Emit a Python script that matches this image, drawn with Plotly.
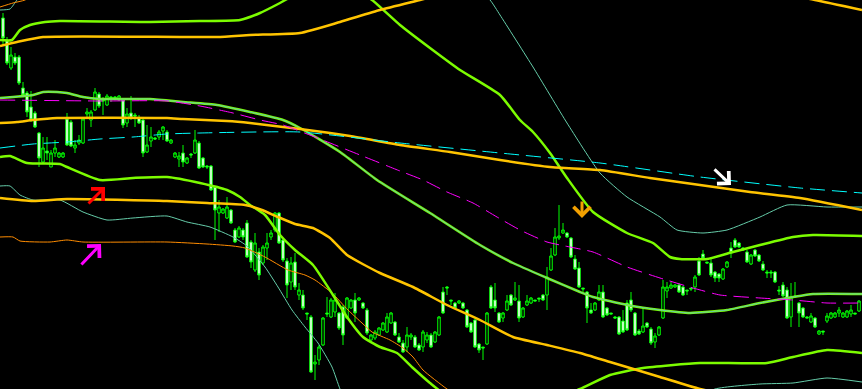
import plotly.graph_objects as go

# ---------------- candle data (price points) ----------------
OPEN = [382,360,332,343,343,312,307,293,287,267,
        238,249,233,247,243,243,281,278,252,257,
        257,286,280,290,306,300,295,303,303,300,
        300,277,287,285,282,280,248,259,262,263,
        269,268,257,243,241,247,237,246,247,257,
        242,234,234,213,187,187,182,190,170,163,
        170,177,158,130,148,137,152,163,170,187,
        160,139,118,138,105,105,87,83,36,40,
        55,87,83,88,87,93,82,92,100,100,
        97,90,60,62,65,70,68,77,78,63,
        57,53,63,63,55,53,60,65,58,65,
        108,113,100,97,97,97,90,77,80,56,
        53,56,113,100,87,82,90,105,100,99,
        83,95,97,100,102,105,105,130,145,162,
        167,167,162,141,132,112,108,90,90,100,
        108,92,87,83,83,79,97,100,87,69,
        68,77,71,58,65,82,109,112,113,115,
        113,110,112,113,139,146,138,137,128,126,
        121,133,152,160,157,152,148,136,150,145,
        136,128,128,128,110,115,110,83,104,97,
        92,83,78,82,66,69,79,82,83,87,
        83,83,86,87,89]
HIGH = [387,363,353,347,345,318,309,309,289,268,
        263,263,250,260,248,248,287,280,260,265,
        282,292,290,312,308,303,306,304,304,305,
        302,292,304,287,285,282,275,273,263,270,
        274,270,261,248,248,255,243,247,270,259,
        243,235,235,213,200,192,203,191,172,174,
        172,180,160,167,152,155,167,170,188,188,
        162,142,143,147,117,110,87,85,45,55,
        83,103,102,107,88,95,103,101,107,103,
        98,92,66,70,73,78,87,88,79,67,
        60,73,67,65,57,70,68,67,69,84,
        113,114,100,98,100,98,91,78,81,57,
        53,88,115,117,88,88,105,106,118,115,
        93,105,103,100,102,106,133,152,172,195,
        177,168,163,145,138,112,109,97,98,115,
        115,93,87,84,84,90,100,108,88,71,
        92,78,73,67,74,120,118,118,116,117,
        114,110,112,125,143,150,138,143,129,127,
        132,139,158,162,158,153,150,146,151,146,
        139,130,130,129,114,118,113,117,118,98,
        93,84,87,83,70,69,87,88,88,93,
        88,90,95,87,100]
LOW = [355,335,330,335,315,303,283,278,272,233,
       237,240,233,243,242,242,254,253,247,255,
       256,283,273,289,292,285,294,298,300,299,
       272,273,280,273,276,243,247,253,260,260,
       260,258,256,242,233,233,236,242,246,231,
       232,231,209,160,168,186,181,176,157,162,
       160,142,132,128,120,135,140,160,168,156,
       138,102,110,110,100,90,80,27,20,35,
       54,83,82,83,70,55,81,91,78,99,
       91,65,59,60,64,69,67,76,64,57,
       47,48,60,52,49,48,57,52,57,64,
       86,105,95,91,96,91,72,67,52,47,
       40,55,91,88,77,78,89,94,99,78,
       82,94,96,99,98,99,90,129,144,160,
       166,162,142,130,112,108,77,86,89,99,
       82,84,86,81,65,67,69,88,64,65,
       67,72,55,52,64,81,102,111,112,107,
       104,105,109,108,124,141,136,123,118,118,
       120,132,142,152,152,149,137,135,143,138,
       129,122,122,117,105,103,81,73,102,73,
       82,82,77,72,65,65,77,81,82,83,
       82,82,83,86,88]
CLOSE = [362,337,345,337,317,305,288,280,273,242,
         252,247,247,252,247,247,255,254,255,260,
         281,288,288,308,294,299,304,302,302,304,
         275,286,282,284,277,247,255,263,261,268,
         273,259,260,247,244,238,242,245,260,232,
         233,233,210,190,193,191,193,177,158,172,
         163,143,138,157,125,153,157,167,187,157,
         140,115,137,113,110,92,86,28,38,53,
         82,86,100,100,72,65,102,100,87,102,
         92,67,65,68,72,77,83,87,65,58,
         48,65,65,53,50,68,65,53,68,83,
         87,112,99,92,99,92,73,68,53,50,
         52,87,92,92,78,87,99,95,102,82,
         92,99,102,99,101,100,123,144,163,164,
         170,163,143,131,113,111,92,87,97,108,
         83,85,86,82,66,68,70,90,65,66,
         74,73,57,64,73,113,113,115,115,108,
         105,109,111,123,125,142,137,125,122,122,
         131,138,147,153,153,150,138,145,144,139,
         130,127,127,118,109,104,82,103,103,87,
         83,82,84,73,69,68,84,87,87,90,
         87,89,90,86,99]
BARS = list(range(len(OPEN)))

# ---------------- indicator lines (bar index, price) ----------------
UPPER_BAND_X = [-0.75,2.25,4.25,6.75,10.5,14.25,36.75,49.25,59.25,64.25,69.25,74.25,81.75,88,
                92.25,99.25,106.75,114.25,124.25,129.25,132.5,136.75,141,147.5,156,162.5,166.75,
                169.25,176,182.5,189.25,197.5,202.5,214.75]
UPPER_BAND_Y = [360,360,370,375,378,379,378,379,380,387,397,408,418,410,
                400,375,352,330,305,280,268,247,222,188,167,157,143,
                141,141,148,155,163,165,164]

UPPER_GOLD_X = [-0.75,3.5,10,53.5,61.75,74.25,84.25,94.25,104.25,114.25,149.25,189.25,203,214.75]
UPPER_GOLD_Y = [354,358,363,363,365,367,378,390,400,410,425,410,400,390]

MID_X = [-0.75,7.5,10,13.5,16,20,24.25,36.75,45,53.5,61.75,70,74.25,84.25,93.5,106.75,119.25,
         127.5,136,144.25,147.5,156,164.25,171.75,181,189.25,197.5,202.5,214.75]
MID_Y = [302,305,308,308,307,303,301,301,298,295,288,280,272,248,220,187,155,
         137,122,108,103,95,90,87,90,97,103,106,106]

MA_X = [-0.75,24.25,41,49.25,57.5,64.25,70,79.25,89.25,99.25,105,111,117.5,123.5,129.25,136,
        140.5,147.5,156,164.25,172.5,179.25,189.25,197.5,206,214.75]
MA_Y = [300,299,299,294,287,280,275,261,245,229,220,208,197,183,170,158,
        154,148,133,122,112,105,102,100,97,97]

MID_GOLD_X = [-0.75,3.5,7.5,13.5,41,45,56,61.75,70,74.25,86.75,99.25,111.75,124.25,136.75,
              149.25,161.75,174.25,186.75,199.25,214.75]
MID_GOLD_Y = [277,278,280,282,282,281,279,277,273,271,264,255,248,240,233,
              230,222,215,208,202,190]

CYAN_X = [-0.75,7.5,16,24.25,32.5,41,49.25,74.25,99.25,124.25,149.25,174.25,199.25,214.75]
CYAN_Y = [252,256,258,261,263,266,267,268,257,247,237,223,212,207]

LOWER_BAND_X = [-0.75,1.75,6,14.25,16,24.25,32.5,41,49.25,56,59.25,61.75,65.5,69.25,73,77.5,
                82.5,86,90,94.25,98.5,102.5,106.75,111.75,124.25,136.75,144.25,151.75,160,
                174.25,191,197.5,206,214.75]
LOWER_BAND_Y = [243,244,237,236,233,220,222,223,217,210,203,195,185,165,150,135,
                105,83,63,53,47,32,17,2,-10,0,11,25,32,
                37,37,43,50,47]

LOWER_GOLD_X = [-0.75,7.5,16,41,51,60.5,64.75,68.75,73,77.5,81.75,86,94.25,102.5,111,119.25,
                127.5,136,144.25,151.75,164.25,174.25,189.25,214.75]
LOWER_GOLD_Y = [202,199,201,199,197,195,190,183,176,172,162,145,127,113,95,80,
                63,55,47,38,23,11,0,-12]

LOWER_TEAL_X = [-0.75,1.75,4.25,7.5,14.25,20,26,32.5,41,46,51.75,57.5,61,65.5,68.75,72.25,
                75.5,78.75,82.25,84.25,86.75,124.25,161.75,178,189.25,197.5,206,214.75]
LOWER_TEAL_Y = [214,214,205,200,200,188,180,182,184,178,173,163,154,133,113,90,
                73,57,33,11,-10,-50,-20,11,16,17,22,18]

LOWER_ORANGE_X = [-0.75,2.5,4.25,11.75,16,20,41,51,57.5,60.5,65.5,71.25,75.5,78,82.25,86.25,
                  89.75,92.25,96.75,100,102.5,105,111,119.25]
LOWER_ORANGE_Y = [163,163,159,158,160,158,158,156,154,152,143,130,125,120,107,90,
                  77,68,60,52,43,30,11,-10]

UPPER_TEAL_X = [-0.75,1.75,3.5,6.75,49.25,99.25,116.75,121.75,124.25,132.5,141,149.25,156,
                164.25,168.5,175,181,189.25,196,206,214.75]
UPPER_TEAL_Y = [390,391,400,415,440,440,415,400,385,333,277,227,203,
                183,170,167,170,183,195,193,193]

UPPER_ORANGE_X = [-0.75,2.5,5.5,9.25]
UPPER_ORANGE_Y = [393,397,400,410]

# signal arrows: bar index, price, colour, tail offset (px)
SIGNAL_X = [25.5, 24.5, 144.75, 182]
SIGNAL_Y = [213, 156, 182, 215]
SIGNAL_COLOR = ["#FF0000", "#FF00FF", "#F2A000", "#FFFFFF"]
SIGNAL_AX = [-18, -21, 0, -18]
SIGNAL_AY = [18, 22, -18, -17]

fig = go.Figure()

fig.add_trace(go.Candlestick(
    x=BARS, open=OPEN, high=HIGH, low=LOW, close=CLOSE,
    increasing=dict(line=dict(color="#00FF00", width=1), fillcolor="#000000"),
    decreasing=dict(line=dict(color="#00FF00", width=1), fillcolor="#FFFFFF"),
    whiskerwidth=0, hoverinfo="skip",
))

def line(xs, ys, color, width, dash=None):
    fig.add_trace(go.Scatter(x=xs, y=ys, mode="lines",
                             line=dict(color=color, width=width, dash=dash,
                                       shape="spline", smoothing=0.5),
                             hoverinfo="skip"))

LIME = "#7CFC00"
GOLD = "#FFC400"
TEAL = "#66CDAA"
ORANGE = "#FF8C00"

line(UPPER_TEAL_X, UPPER_TEAL_Y, TEAL, 1)
line(UPPER_ORANGE_X, UPPER_ORANGE_Y, ORANGE, 1)
line(LOWER_TEAL_X, LOWER_TEAL_Y, TEAL, 1)
line(LOWER_ORANGE_X, LOWER_ORANGE_Y, ORANGE, 1)
line(UPPER_BAND_X, UPPER_BAND_Y, LIME, 2.5)
line(LOWER_BAND_X, LOWER_BAND_Y, LIME, 2.5)
line(MID_X, MID_Y, LIME, 2.5)
line(MID_X, MID_Y, TEAL, 1)
line(UPPER_GOLD_X, UPPER_GOLD_Y, GOLD, 2.5)
line(MID_GOLD_X, MID_GOLD_Y, GOLD, 2.5)
line(LOWER_GOLD_X, LOWER_GOLD_Y, GOLD, 2.5)
line(MA_X, MA_Y, "#FF00FF", 1, "15px,7px")
line(CYAN_X, CYAN_Y, "#00FFFF", 1, "15px,7px")

for sx, sy, sc, ax, ay in zip(SIGNAL_X, SIGNAL_Y, SIGNAL_COLOR, SIGNAL_AX, SIGNAL_AY):
    fig.add_annotation(x=sx, y=sy, xref="x", yref="y", ax=ax, ay=ay, text="",
                       showarrow=True, arrowhead=4, arrowsize=1.1, arrowwidth=3,
                       arrowcolor=sc)

fig.update_layout(
    width=862, height=389,
    margin=dict(l=0, r=0, t=0, b=0),
    paper_bgcolor="#000000", plot_bgcolor="#000000",
    showlegend=False,
    boxgap=0.1,
    xaxis=dict(range=[-0.75, 214.75], visible=False, rangeslider=dict(visible=False),
               fixedrange=True),
    yaxis=dict(range=[11, 400], visible=False, fixedrange=True),
)

fig.write_html("out.html", config={"displayModeBar": False})
